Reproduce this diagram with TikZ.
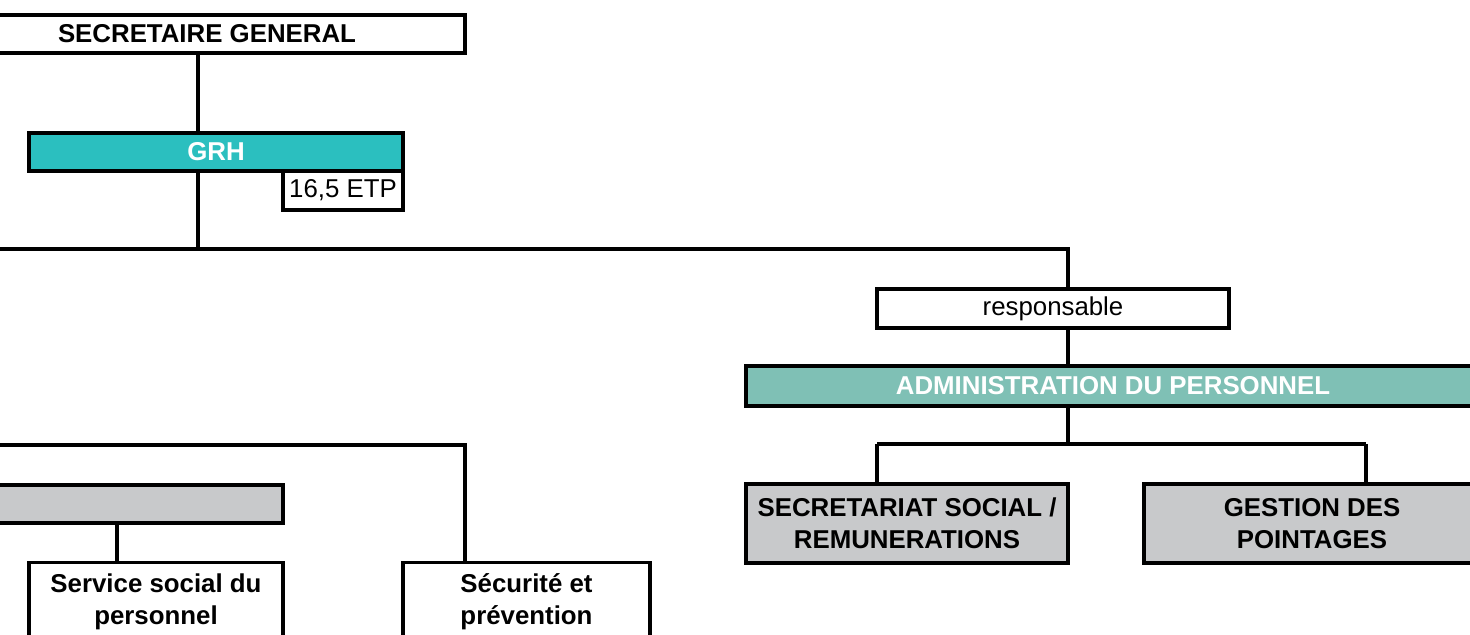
\documentclass[tikz,border=0pt]{standalone}
\usepackage{fontspec}
\setmainfont{Liberation Sans}
\usepackage{xcolor}
\usepackage{tikz}
\usetikzlibrary{positioning, calc}
\definecolor{grhteal}{HTML}{2BBFBF}
\definecolor{admteal}{HTML}{7FC0B5}
\definecolor{unitgray}{HTML}{C8C9CB}
\tikzstyle{unit} = [rectangle, draw=black, line width=1.9pt, inner sep=0pt, text centered, align=center, font=\fontsize{14.7pt}{18.3pt}\selectfont\bfseries]
\tikzstyle{plain} = [unit, font=\fontsize{14.7pt}{18.3pt}\selectfont]
\tikzstyle{grhbox} = [unit, fill=grhteal, text=white]
\tikzstyle{admbox} = [unit, fill=admteal, text=white]
\tikzstyle{service} = [unit, fill=unitgray]
\tikzstyle{link} = [line width=1.9pt]

\begin{document}
\begin{tikzpicture}[x=0.02cm, y=-0.02cm]
    \useasboundingbox (0,0) rectangle (1470,635);
    \clip (0,0) rectangle (1470,635);

    % Top
    \node (sg) [unit, minimum width=10.32cm, minimum height=0.76cm, text depth=0.5pt] at (207,34) {SECRETAIRE GENERAL};
    \node (grh) [grhbox, minimum width=7.48cm, minimum height=0.76cm] at (216,152) {GRH};
    \node (etp) [plain, minimum width=2.4cm, minimum height=0.78cm] at (343,190.5) {16,5 ETP};

    % Right branch
    \node (resp) [plain, minimum width=7.04cm, minimum height=0.78cm] at (1053,308.5) {responsable};
    \node (adm) [admbox, minimum width=14.68cm, minimum height=0.8cm] at (1113,386) {ADMINISTRATION DU PERSONNEL};
    \node (secr) [service, minimum width=6.44cm, minimum height=1.58cm] at (907,523.5) {SECRETARIAT SOCIAL /\\REMUNERATIONS};
    \node (gest) [service, minimum width=6.72cm, minimum height=1.58cm] at (1312,523.5) {GESTION DES\\POINTAGES};

    % Left branch
    \node (grayL) [service, minimum width=7.66cm, minimum height=0.76cm] at (91.5,504) {};
    \node (serv) [unit, minimum width=5.08cm, minimum height=1.58cm] at (156,602) {Service social du\\personnel};
    \node (secu) [unit, minimum width=4.94cm, minimum height=1.58cm] at (526.5,602) {Sécurité et\\prévention};

    % Junctions
    \coordinate (j1) at (198,249);
    \coordinate (busL) at (-20,249);
    \coordinate (busR) at (1068,249);
    \coordinate (j2) at (1068,444);
    \coordinate (j2L) at (877,444);
    \coordinate (j2R) at (1366,444);
    \coordinate (bus2L) at (-20,445);
    \coordinate (bus2R) at (465,445);
    \coordinate (j3) at (117,540);

    % Connectors
    \draw [link] (sg.south -| j1) -- (grh.north -| j1);
    \draw [link] (grh.south -| j1) -- (j1);
    \draw [link] (busL) -- (busR) -- (resp.north -| busR);
    \draw [link] (resp.south -| busR) -- (adm.north -| busR);
    \draw [link] (adm.south -| j2) -- (j2);
    \draw [link] (j2L) -- (j2R);
    \draw [link] (j2L) -- (secr.north -| j2L);
    \draw [link] (j2R) -- (gest.north -| j2R);
    \draw [link] (bus2L) -- (bus2R) -- (secu.north -| bus2R);
    \draw [link] (grayL.south -| j3) -- (serv.north -| j3);
\end{tikzpicture}
\end{document}
